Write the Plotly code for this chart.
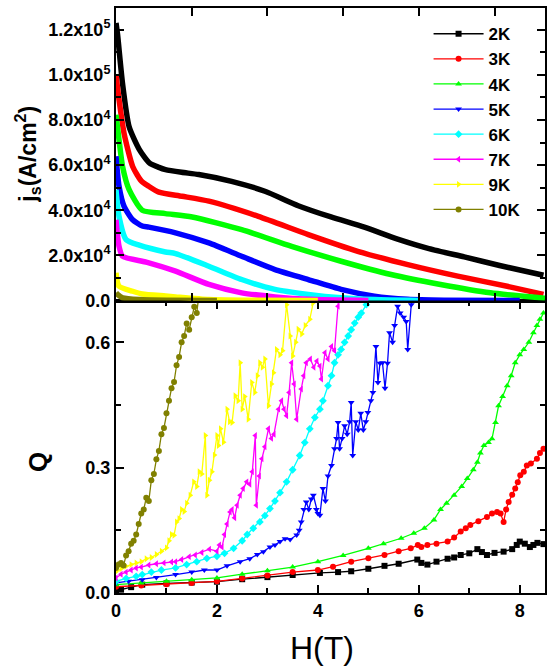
import plotly.graph_objects as go

FONT = "Arial, Liberation Sans, sans-serif"

temps = ["2K", "3K", "4K", "5K", "6K", "7K", "9K", "10K"]
colors = ["#000000", "#FF0000", "#00FF00", "#0000FF", "#00FFFF", "#FF00FF", "#FFFF00", "#808000"]
symbols = ["square", "circle", "triangle-up", "triangle-down", "diamond",
           "triangle-left", "triangle-right", "circle"]

# ---------------- top panel: js(H) ----------------
H_js_2K = [0, 0.03, 0.13, 0.26, 0.46, 0.66, 0.85, 0.98, 1.3, 1.64, 2.29, 2.95, 3.61, 4.26, 4.92, 5.58, 6.2, 6.9, 7.6, 8.47]
js_2K = [1.23e5, 1.18e5, 9.6e4, 7.7e4, 6.7e4, 6.1e4, 5.9e4, 5.8e4, 5.68e4, 5.58e4, 5.28e4, 4.84e4, 4.2e4, 3.7e4, 3.25e4, 2.72e4, 2.3e4, 1.93e4, 1.55e4, 1.12e4]

H_js_3K = [0, 0.06, 0.16, 0.33, 0.5, 0.65, 0.85, 1.31, 1.84, 2.82, 3.81, 4.79, 5.78, 6.77, 7.75, 8.47]
js_3K = [1.0e5, 8.9e4, 7.4e4, 5.94e4, 5.3e4, 5.06e4, 4.8e4, 4.62e4, 4.4e4, 3.73e4, 2.92e4, 2.18e4, 1.59e4, 1.08e4, 6.3e3, 2.7e3]

H_js_4K = [0, 0.06, 0.13, 0.26, 0.52, 0.98, 1.51, 2.49, 3.48, 4.46, 5.45, 6.43, 7.42, 8.4, 8.5]
js_4K = [8.23e4, 7.12e4, 5.94e4, 4.91e4, 4.0e4, 3.85e4, 3.7e4, 3.14e4, 2.4e4, 1.74e4, 1.15e4, 7.1e3, 3.4e3, 1.2e3, 1.0e3]

H_js_5K = [0, 0.06, 0.16, 0.33, 0.52, 0.65, 1.18, 1.84, 2.49, 3.15, 3.81, 4.46, 5.12, 5.78, 6.5, 8.0]
js_5K = [6.39e4, 5.06e4, 4.17e4, 3.58e4, 3.3e4, 3.25e4, 3.0e4, 2.55e4, 1.96e4, 1.37e4, 9.3e3, 4.9e3, 1.9e3, 5e2, 1e2, 0]

H_js_6K = [0, 0.06, 0.2, 0.46, 0.98, 1.18, 1.84, 2.49, 3.15, 3.81, 4.46, 5.12, 6.0]
js_6K = [4.91e4, 3.73e4, 2.7e4, 2.45e4, 2.15e4, 2.08e4, 1.52e4, 9.3e3, 4.9e3, 2.7e3, 1.2e3, 4e2, 0]

H_js_7K = [0, 0.06, 0.13, 0.52, 0.65, 1.18, 1.84, 2.49, 3.15, 3.81, 5.0]
js_7K = [3.58e4, 2.4e4, 1.96e4, 1.74e4, 1.67e4, 1.3e4, 7.1e3, 3.4e3, 1.6e3, 5e2, 0]

H_js_9K = [0, 0.06, 0.33, 0.52, 0.98, 1.18, 1.84, 2.5, 4.0]
js_9K = [1.23e4, 6.3e3, 4.1e3, 2.9e3, 2.0e3, 1.6e3, 4e2, 1e2, 0]

H_js_10K = [0, 0.03, 0.13, 0.46, 1.0, 2.0]
js_10K = [3.4e3, 2.7e3, 1.2e3, 4e2, 1e2, 0]

# ---------------- bottom panel: Q(H) ----------------
H_Q_2K = [0, 0.1, 0.3, 0.52, 1.0, 1.5, 2.0, 2.5, 3.0, 3.5, 4.04, 4.4, 4.66, 5.0, 5.32, 5.6, 5.97, 6.05, 6.17, 6.35, 6.57, 6.7, 6.83, 7.0, 7.16, 7.25, 7.35, 7.5, 7.68, 7.85, 7.94, 8.0, 8.1, 8.2, 8.27, 8.35, 8.47]
Q_2K = [0.003, 0.008, 0.014, 0.02, 0.023, 0.025, 0.027, 0.033, 0.038, 0.043, 0.048, 0.05, 0.052, 0.058, 0.065, 0.07, 0.08, 0.072, 0.068, 0.075, 0.082, 0.085, 0.091, 0.095, 0.105, 0.098, 0.091, 0.096, 0.099, 0.105, 0.115, 0.123, 0.118, 0.11, 0.115, 0.12, 0.117]

H_Q_3K = [0, 0.5, 1.0, 1.5, 2.0, 2.5, 3.0, 3.5, 4.0, 4.3, 4.66, 5.0, 5.32, 5.6, 5.84, 5.98, 6.05, 6.17, 6.35, 6.57, 6.7, 6.83, 6.93, 7.02, 7.18, 7.35, 7.45, 7.55, 7.62, 7.68, 7.73, 7.78, 7.85, 7.91, 7.96, 8.01, 8.08, 8.14, 8.22, 8.34, 8.4, 8.47]
Q_3K = [0.015, 0.018, 0.021, 0.024, 0.028, 0.035, 0.042, 0.05, 0.055, 0.063, 0.075, 0.083, 0.091, 0.1, 0.107, 0.115, 0.11, 0.115, 0.118, 0.123, 0.133, 0.147, 0.155, 0.163, 0.172, 0.182, 0.19, 0.194, 0.19, 0.17, 0.2, 0.218, 0.235, 0.25, 0.265, 0.282, 0.29, 0.305, 0.31, 0.321, 0.335, 0.345]

H_Q_4K = [0, 0.5, 1.0, 1.5, 2.0, 2.5, 3.0, 3.5, 4.0, 4.5, 5.0, 5.3, 5.65, 5.9, 6.11, 6.3, 6.43, 6.55, 6.7, 6.85, 6.96, 7.08, 7.16, 7.22, 7.29, 7.38, 7.45, 7.52, 7.58, 7.66, 7.75, 7.83, 7.91, 8.0, 8.08, 8.18, 8.27, 8.34, 8.4, 8.47]
Q_4K = [0.02, 0.024, 0.028, 0.032, 0.036, 0.045, 0.053, 0.062, 0.075, 0.09, 0.107, 0.118, 0.131, 0.143, 0.155, 0.175, 0.2, 0.215, 0.234, 0.255, 0.274, 0.295, 0.313, 0.335, 0.353, 0.36, 0.369, 0.408, 0.448, 0.47, 0.496, 0.52, 0.551, 0.57, 0.583, 0.6, 0.623, 0.64, 0.655, 0.67]

H_Q_5K = [0, 0.25, 0.52, 0.8, 1.18, 1.5, 1.75, 2.0, 2.2, 2.46, 2.65, 2.8, 2.92, 3.05, 3.15, 3.25, 3.35, 3.45, 3.58, 3.63, 3.67, 3.72, 3.77, 3.82, 3.87, 3.91, 3.97, 4.0, 4.04, 4.1, 4.15, 4.2, 4.27, 4.33, 4.37, 4.4, 4.43, 4.48, 4.53, 4.58, 4.63, 4.66, 4.69, 4.75, 4.8, 4.85, 4.9, 4.95, 4.99, 5.05, 5.09, 5.15, 5.19, 5.23, 5.28, 5.33, 5.38, 5.42, 5.48, 5.52, 5.58, 5.63, 5.7, 5.75, 5.78, 5.85, 5.9]
Q_5K = [0.024, 0.028, 0.032, 0.037, 0.044, 0.05, 0.055, 0.055, 0.065, 0.075, 0.082, 0.092, 0.099, 0.11, 0.115, 0.123, 0.13, 0.128, 0.139, 0.15, 0.17, 0.2, 0.218, 0.2, 0.225, 0.234, 0.2, 0.19, 0.186, 0.25, 0.22, 0.28, 0.305, 0.345, 0.37, 0.408, 0.345, 0.37, 0.4, 0.38, 0.41, 0.456, 0.329, 0.41, 0.39, 0.43, 0.39, 0.41, 0.432, 0.46, 0.48, 0.59, 0.504, 0.55, 0.551, 0.49, 0.55, 0.623, 0.6, 0.64, 0.686, 0.67, 0.66, 0.65, 0.583, 0.69, 0.72]

H_Q_6K = [0, 0.2, 0.4, 0.52, 0.7, 0.9, 1.18, 1.4, 1.6, 1.8, 2.0, 2.15, 2.33, 2.5, 2.6, 2.72, 2.85, 2.95, 3.05, 3.15, 3.25, 3.38, 3.5, 3.64, 3.74, 3.84, 3.94, 4.04, 4.1, 4.2, 4.27, 4.33, 4.4, 4.46, 4.53, 4.6, 4.66, 4.73, 4.8, 4.86, 4.96, 5.0]
Q_6K = [0.028, 0.035, 0.04, 0.044, 0.05, 0.055, 0.06, 0.068, 0.075, 0.083, 0.088, 0.095, 0.107, 0.125, 0.14, 0.155, 0.17, 0.185, 0.202, 0.22, 0.24, 0.266, 0.295, 0.329, 0.36, 0.393, 0.42, 0.44, 0.46, 0.496, 0.52, 0.551, 0.57, 0.583, 0.6, 0.615, 0.63, 0.646, 0.66, 0.67, 0.69, 0.72]

H_Q_7K = [0, 0.1, 0.2, 0.3, 0.4, 0.5, 0.65, 0.8, 0.95, 1.1, 1.18, 1.3, 1.45, 1.57, 1.7, 1.85, 2.0, 2.05, 2.1, 2.15, 2.2, 2.26, 2.3, 2.35, 2.4, 2.46, 2.52, 2.59, 2.65, 2.7, 2.76, 2.78, 2.84, 2.89, 2.95, 3.02, 3.08, 3.13, 3.22, 3.28, 3.33, 3.38, 3.43, 3.48, 3.53, 3.58, 3.67, 3.72, 3.77, 3.85, 3.92, 3.98, 4.04, 4.07, 4.14, 4.2, 4.27, 4.33, 4.4, 4.42]
Q_7K = [0.036, 0.045, 0.05, 0.055, 0.06, 0.062, 0.067, 0.07, 0.072, 0.074, 0.075, 0.08, 0.087, 0.091, 0.097, 0.105, 0.1, 0.115, 0.11, 0.14, 0.165, 0.194, 0.2, 0.18, 0.21, 0.234, 0.25, 0.266, 0.26, 0.29, 0.377, 0.21, 0.28, 0.321, 0.35, 0.393, 0.37, 0.38, 0.44, 0.46, 0.44, 0.424, 0.48, 0.551, 0.5, 0.416, 0.488, 0.52, 0.551, 0.56, 0.54, 0.555, 0.543, 0.512, 0.575, 0.56, 0.59, 0.58, 0.686, 0.72]

H_Q_9K = [0, 0.1, 0.2, 0.3, 0.4, 0.5, 0.6, 0.7, 0.8, 0.9, 1.0, 1.05, 1.1, 1.15, 1.2, 1.25, 1.3, 1.35, 1.4, 1.47, 1.54, 1.6, 1.65, 1.7, 1.77, 1.8, 1.85, 1.9, 1.95, 2.0, 2.03, 2.07, 2.13, 2.2, 2.25, 2.3, 2.36, 2.42, 2.46, 2.5, 2.55, 2.62, 2.69, 2.75, 2.8, 2.85, 2.9, 2.95, 3.02, 3.08, 3.12, 3.18, 3.25, 3.3, 3.38, 3.45, 3.5, 3.56, 3.61, 3.68, 3.75, 3.84, 3.9, 3.95]
Q_9K = [0.051, 0.058, 0.064, 0.068, 0.072, 0.075, 0.082, 0.085, 0.092, 0.1, 0.108, 0.125, 0.14, 0.138, 0.17, 0.178, 0.2, 0.195, 0.215, 0.234, 0.266, 0.255, 0.29, 0.285, 0.377, 0.234, 0.27, 0.29, 0.33, 0.377, 0.353, 0.393, 0.361, 0.44, 0.41, 0.408, 0.472, 0.46, 0.551, 0.44, 0.47, 0.416, 0.504, 0.48, 0.52, 0.551, 0.54, 0.56, 0.448, 0.5, 0.527, 0.583, 0.57, 0.58, 0.69, 0.615, 0.567, 0.6, 0.631, 0.62, 0.64, 0.655, 0.694, 0.72]

H_Q_10K = [0, 0.05, 0.1, 0.15, 0.2, 0.25, 0.3, 0.35, 0.4, 0.45, 0.5, 0.55, 0.6, 0.65, 0.7, 0.75, 0.8, 0.85, 0.9, 0.95, 1.0, 1.05, 1.1, 1.15, 1.2, 1.25, 1.3, 1.35, 1.4, 1.45, 1.5, 1.55, 1.6, 1.65]
Q_10K = [0.06, 0.068, 0.072, 0.066, 0.09, 0.1, 0.118, 0.125, 0.14, 0.165, 0.19, 0.2, 0.228, 0.22, 0.27, 0.285, 0.32, 0.34, 0.38, 0.395, 0.43, 0.46, 0.49, 0.505, 0.545, 0.565, 0.6, 0.615, 0.645, 0.63, 0.66, 0.685, 0.67, 0.72]

js_H = [H_js_2K, H_js_3K, H_js_4K, H_js_5K, H_js_6K, H_js_7K, H_js_9K, H_js_10K]
js_V = [js_2K, js_3K, js_4K, js_5K, js_6K, js_7K, js_9K, js_10K]
Q_H = [H_Q_2K, H_Q_3K, H_Q_4K, H_Q_5K, H_Q_6K, H_Q_7K, H_Q_9K, H_Q_10K]
Q_V = [Q_2K, Q_3K, Q_4K, Q_5K, Q_6K, Q_7K, Q_9K, Q_10K]

js_tickvals = [0, 2e4, 4e4, 6e4, 8e4, 1.0e5, 1.2e5]
js_ticktext = ["0.0", "2.0x10<sup>4</sup>", "4.0x10<sup>4</sup>", "6.0x10<sup>4</sup>",
               "8.0x10<sup>4</sup>", "1.0x10<sup>5</sup>", "1.2x10<sup>5</sup>"]
Q_tickvals = [0, 0.3, 0.6]
Q_ticktext = ["0.0", "0.3", "0.6"]
H_tickvals = [0, 2, 4, 6, 8]

fig = go.Figure()

for i, t in enumerate(temps):
    fig.add_trace(go.Scatter(x=js_H[i], y=js_V[i], xaxis="x2", yaxis="y2", mode="lines",
                             line=dict(color=colors[i], width=5.5, shape="spline", smoothing=0.6),
                             showlegend=False, hoverinfo="skip"))

for i, t in enumerate(temps):
    fig.add_trace(go.Scatter(x=Q_H[i], y=Q_V[i], xaxis="x", yaxis="y", mode="lines+markers",
                             name=t, line=dict(color=colors[i], width=1.3),
                             marker=dict(color=colors[i], symbol=symbols[i], size=6,
                                         line=dict(width=0)),
                             showlegend=True))

axis_common = dict(showline=True, linewidth=2, linecolor="black", mirror="ticks",
                   ticks="inside", ticklen=8, tickwidth=2, tickcolor="black",
                   showgrid=False, zeroline=False,
                   tickfont=dict(family=FONT, size=18, color="black", weight="bold"))

fig.update_layout(
    width=548, height=669,
    margin=dict(l=116, r=1, t=8, b=76),
    paper_bgcolor="white", plot_bgcolor="white",
    font=dict(family=FONT, color="black"),
    xaxis=dict(domain=[0, 1], anchor="y", range=[0, 8.5], tickvals=H_tickvals,
               minor=dict(tickvals=[1, 3, 5, 7], ticks="inside", ticklen=5, tickwidth=2, tickcolor="black"),
               **axis_common),
    yaxis=dict(domain=[0, 0.5], anchor="x", range=[0, 0.7], tickvals=Q_tickvals, ticktext=Q_ticktext,
               minor=dict(tickvals=[0.15, 0.45], ticks="inside", ticklen=5, tickwidth=2, tickcolor="black"),
               **axis_common),
    xaxis2=dict(domain=[0, 1], anchor="y2", range=[0, 8.5], tick0=0, dtick=1.5,
                showticklabels=False, **axis_common),
    yaxis2=dict(domain=[0.5, 1], anchor="x2", range=[0, 1.296e5], tickvals=js_tickvals,
                ticktext=js_ticktext,
                minor=dict(tickvals=[1e4, 3e4, 5e4, 7e4, 9e4, 1.1e5], ticks="inside", ticklen=5,
                           tickwidth=2, tickcolor="black"),
                **axis_common),
    legend=dict(x=0.7286, y=0.986, xanchor="left", yanchor="top", bgcolor="rgba(0,0,0,0)",
                font=dict(family=FONT, size=17, color="black", weight="bold"),
                itemwidth=50, tracegroupgap=0),
    annotations=[
        dict(text="j<sub>s</sub>(A/cm<sup>2</sup>)", xref="paper", yref="paper", x=-0.2065, y=0.75,
             textangle=-90, showarrow=False, xanchor="center", yanchor="middle",
             font=dict(family=FONT, size=23, color="black", weight="bold")),
        dict(text="Q", xref="paper", yref="paper", x=-0.182, y=0.224, textangle=-90,
             showarrow=False, xanchor="center", yanchor="middle",
             font=dict(family=FONT, size=26, color="black", weight="bold")),
        dict(text="H(T)", xref="paper", yref="paper", x=0.48, y=-0.094, showarrow=False,
             xanchor="center", yanchor="middle",
             font=dict(family=FONT, size=32, color="black")),
    ],
)

fig.write_html("out.html")
